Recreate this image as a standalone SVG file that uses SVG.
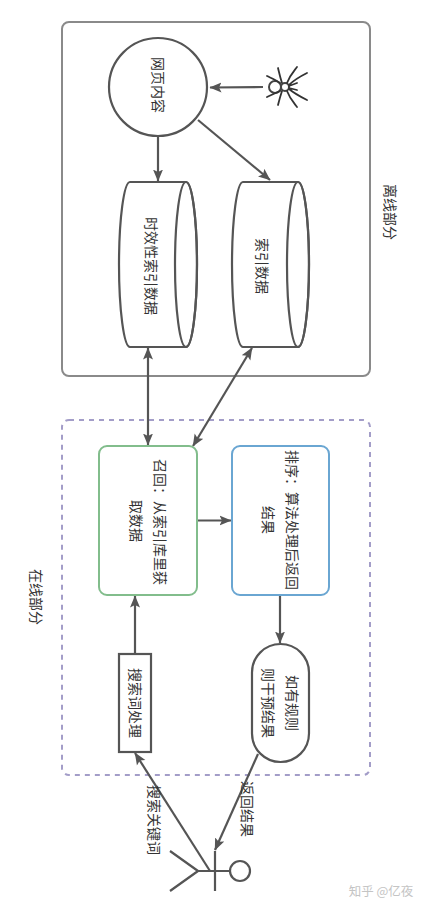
<svg xmlns="http://www.w3.org/2000/svg" width="428" height="915" viewBox="0 0 428 915">
<style>
.t{font-family:"Noto Sans CJK SC","Liberation Sans",sans-serif;font-size:14px;fill:#333;text-anchor:middle;dominant-baseline:central}
.s{fill:#fff;stroke:#555;stroke-width:2.2}
.c{fill:none;stroke:#555;stroke-width:2.2}
.a{fill:none;stroke:#555;stroke-width:2.2;marker-end:url(#ah)}
.b{fill:none;stroke:#555;stroke-width:2.2;marker-start:url(#ah);marker-end:url(#ah)}
</style>
<defs>
<marker id="ah" markerUnits="userSpaceOnUse" markerWidth="13" markerHeight="11" refX="11.5" refY="5.5" orient="auto-start-reverse"><path d="M0,0.5L12,5.5L0,10.5L2.5,5.5Z" fill="#555"/></marker>
</defs>
<rect width="428" height="915" fill="#fff"/>
<g id="offline"><rect x="62" y="22" width="308" height="354" rx="7" fill="none" stroke="#8a8a8a" stroke-width="2"/><text class="t" transform="rotate(90 390.5 212)" x="390.5" y="212">离线部分</text></g>
<g id="online"><rect x="62" y="420" width="308" height="355" rx="7" fill="none" stroke="#a39dc8" stroke-width="2" stroke-dasharray="5 5"/><text class="t" transform="rotate(90 37 597)" x="37" y="597">在线部分</text></g>
<g id="connectors">
<path class="a" d="M263,87 L210,87.5"/>
<path class="a" d="M158,136 L158,181"/>
<path class="a" d="M198,120 L270,180"/>
<path class="b" d="M148,348 L148,445"/>
<path class="b" d="M252,348 L193,446"/>
<path class="a" d="M198,520.5 L231,520.5"/>
<path class="a" d="M280,596 L280,643"/>
<path class="a" d="M135,653 L135,596"/>
<path class="a" d="M210,871 L135,753"/>
<path class="a" d="M258,754 L215,850"/>
</g>
<g id="web"><circle class="s" cx="158" cy="87" r="49"/><text class="t" transform="rotate(90 159 85)" x="159" y="85">网页内容</text></g>
<g id="spider"><circle cx="275" cy="87" r="6" fill="#fff" stroke="#444" stroke-width="2"/><circle cx="285" cy="87" r="4" fill="#fff" stroke="#444" stroke-width="2"/>
<path d="M287,83 C290,75 294,71 297,67 M289,85 C295,79 301,76 307,73 M289,86 L297,83 M289,88 L297,90 M289,89 C295,94 301,97 307,100 M287,91 C290,99 294,103 297,107 M282,83 C280,77 279,72 278,68 M282,91 C280,97 279,101 278,105 M280,83 C276,80 271,78 267,76 M280,91 C276,93 271,95 267,97" fill="none" stroke="#333" stroke-width="1.8" stroke-linecap="round"/></g>
<g id="cyl1"><path class="s" d="M130,182 L186,182 A11,82.5 0 0 1 186,347 L130,347 A11,82.5 0 0 1 130,182Z"/><ellipse class="c" cx="186" cy="264.5" rx="11" ry="82.5"/><text class="t" transform="rotate(90 152 266)" x="152" y="266">时效性索引数据</text></g>
<g id="cyl2"><path class="s" d="M243,182 L298,182 A11,82.5 0 0 1 298,347 L243,347 A11,82.5 0 0 1 243,182Z"/><ellipse class="c" cx="298" cy="264.5" rx="11" ry="82.5"/><text class="t" transform="rotate(90 263 266)" x="263" y="266">索引数据</text></g>
<g id="recall"><rect x="99" y="446" width="98" height="149" rx="8" fill="#fff" stroke="#82bd8c" stroke-width="2"/><text class="t" transform="rotate(90 161 522)" x="161" y="522">召回：从索引库里获</text><text class="t" transform="rotate(90 137 521)" x="137" y="521">取数据</text></g>
<g id="rank"><rect x="232" y="446" width="97" height="149" rx="8" fill="#fff" stroke="#6aa6d2" stroke-width="2"/><text class="t" transform="rotate(90 293 520)" x="293" y="520">排序：算法处理后返回</text><text class="t" transform="rotate(90 269 520)" x="269" y="520">结果</text></g>
<g id="query"><rect class="s" x="119" y="654" width="32" height="98"/><text class="t" transform="rotate(90 136 703)" x="136" y="703">搜索词处理</text></g>
<g id="rule"><rect class="s" x="252" y="644" width="57" height="118" rx="28.5"/><text class="t" transform="rotate(90 293 703)" x="293" y="703">如有规则</text><text class="t" transform="rotate(90 269 703)" x="269" y="703">则干预结果</text></g>
<g id="user"><circle class="s" cx="240" cy="871" r="10"/><path class="c" d="M230,871 L198,871 M198,871 L170,851 M198,871 L170,891 M215,851 L215,891"/></g>
<g id="labels"><text class="t" transform="rotate(90 155 820)" x="155" y="820">搜索关键词</text><text class="t" transform="rotate(90 248 809)" x="248" y="809">返回结果</text></g>
<g id="mark"><text x="381" y="896" text-anchor="middle" font-family="'Noto Sans CJK SC',sans-serif" font-size="12.5" fill="#c4c4c4">知乎 @亿夜</text></g>
</svg>
